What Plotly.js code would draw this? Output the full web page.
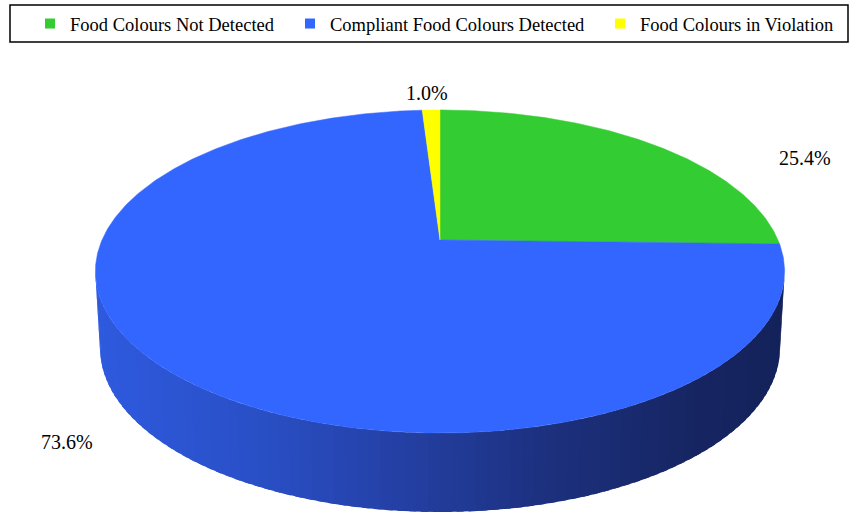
<!DOCTYPE html>
<html><head><meta charset="utf-8">
<script src="https://cdn.plot.ly/plotly-3.0.1.min.js"></script>
<style>html,body{margin:0;padding:0;background:#fff}#chart{width:858px;height:514px}</style>
</head><body><div id="chart"></div>
<script>
// ---- data ----
const categories = ['Food Colours Not Detected', 'Compliant Food Colours Detected', 'Food Colours in Violation'];
const values = [25.4, 73.6, 1.0];
const colors = ['#33CC33', '#3366FF', '#FFFF00'];

const SERIF = '"Liberation Serif", "Times New Roman", Times, "DejaVu Serif", serif';

// ---- geometry of the tilted disc (perspective projection of a unit circle) ----
const CX = 440, AY = 240, A = 338, B = 155.4, K = -0.195;
function topPt(deg) {
  const t = deg * Math.PI / 180;
  const u = Math.sin(t), v = -Math.cos(t);
  const d = 1 + K * v;
  return [CX + A * u / d, AY + B * v / d];
}
const TRX = A / Math.sqrt(1 - K * K);
const TCY = AY + B * (-K) / (1 - K * K);
const TTOP = AY - B / (1 - K), TBOT = AY + B / (1 + K);
const TRY = (TBOT - TTOP) / 2;
const BCY = 348, BRX = 340, BRY = 164;

const stops = [[95, [46, 90, 222]], [250, [42, 80, 200]], [400, [36, 64, 165]], [550, [28, 48, 125]], [700, [22, 37, 98]], [790, [20, 34, 90]]];
function sideColor(x) {
  if (x <= stops[0][0]) return stops[0][1];
  for (let i = 1; i < stops.length; i++) {
    if (x <= stops[i][0]) {
      const f = (x - stops[i - 1][0]) / (stops[i][0] - stops[i - 1][0]);
      return stops[i - 1][1].map((c, j) => Math.round(c + f * (stops[i][1][j] - c)));
    }
  }
  return stops[stops.length - 1][1];
}

const traces = [];
// side wall (front half), vertical strips for the shading; each strip overlaps the next
const N = 90;
for (let i = 0; i < N; i++) {
  const p0 = Math.PI * i / N, p1 = Math.min(Math.PI, Math.PI * (i + 1.6) / N);
  const xs = [], ys = [];
  const steps = 4;
  for (let s = 0; s <= steps; s++) { const p = p0 + (p1 - p0) * s / steps; xs.push(CX + TRX * Math.cos(p)); ys.push(TCY + TRY * Math.sin(p)); }
  for (let s = steps; s >= 0; s--) { const p = p0 + (p1 - p0) * s / steps; xs.push(CX + BRX * Math.cos(p)); ys.push(BCY + BRY * Math.sin(p)); }
  const xm = CX + TRX * Math.cos(Math.PI * (i + 0.5) / N);
  const c = 'rgb(' + sideColor(xm).join(',') + ')';
  traces.push({x: xs, y: ys, type: 'scatter', mode: 'lines', fill: 'toself', fillcolor: c,
    line: {color: c, width: 0}, hoverinfo: 'skip', showlegend: false});
}
// top face slices, clockwise from 12 o'clock
const total = values.reduce((a, b) => a + b, 0);
let start = 0;
values.forEach((val, i) => {
  const end = start + val / total * 360;
  const xs = [CX], ys = [AY];
  const n = Math.max(2, Math.ceil((end - start) / 0.5));
  for (let s = 0; s <= n; s++) { const p = topPt(start + (end - start) * s / n); xs.push(p[0]); ys.push(p[1]); }
  xs.push(CX); ys.push(AY);
  traces.push({x: xs, y: ys, type: 'scatter', mode: 'lines', fill: 'toself', fillcolor: colors[i],
    line: {color: colors[i], width: 0.5}, hoverinfo: 'skip', showlegend: false});
  start = end;
});
// legend entries, one legend per entry so each can be placed like the original
const legendIds = ['legend', 'legend2', 'legend3'];
categories.forEach((name, i) => {
  traces.push({x: [null], y: [null], type: 'scatter', mode: 'markers', name: name, legend: legendIds[i],
    marker: {symbol: 'square', size: 10, color: colors[i]}, hoverinfo: 'skip', showlegend: true});
});

// percentage labels
const labelPos = [[805, 158], [67, 442], [427, 93]];
const annotations = values.map((v, i) => ({
  x: labelPos[i][0], y: labelPos[i][1], xref: 'x', yref: 'y', showarrow: false,
  text: v.toFixed(1) + '%', font: {family: SERIF, size: 20, color: '#000'}
}));

const legendX = [30, 290, 600];
const layout = {
  width: 858, height: 514,
  margin: {l: 0, r: 0, t: 0, b: 0},
  paper_bgcolor: '#fff', plot_bgcolor: '#fff',
  xaxis: {range: [0, 858], visible: false, fixedrange: true},
  yaxis: {range: [514, 0], visible: false, fixedrange: true},
  showlegend: true,
  annotations: annotations,
  shapes: [{type: 'rect', xref: 'paper', yref: 'paper', x0: 10 / 858, x1: 848 / 858, y0: 1 - 42 / 514, y1: 1 - 5 / 514,
    line: {color: '#000', width: 1.5}, fillcolor: 'rgba(0,0,0,0)', layer: 'above'}]
};
legendIds.forEach((id, i) => {
  layout[id] = {orientation: 'h', x: legendX[i] / 858, xanchor: 'left', y: 1 - 24 / 514, yanchor: 'middle',
    borderwidth: 0, bgcolor: 'rgba(0,0,0,0)', itemwidth: 30,
    font: {family: SERIF, size: 18.5, color: '#000'}};
});
Plotly.newPlot('chart', traces, layout, {staticPlot: true, displayModeBar: false});
</script></body></html>
